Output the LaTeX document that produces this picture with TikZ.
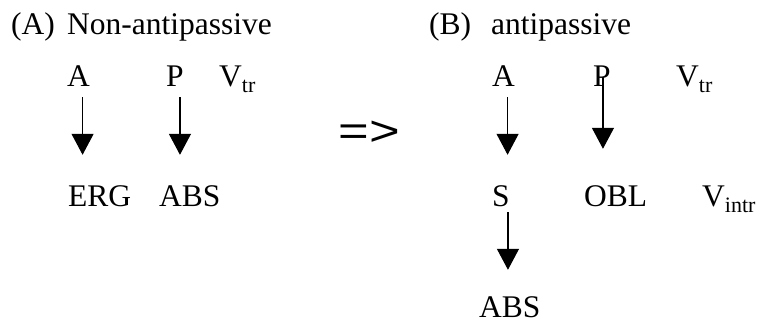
\documentclass[tikz,border=0pt]{standalone}
\usepackage{fontspec}
\setmainfont{Liberation Serif}
\newfontfamily\arrowfont{Liberation Sans}
\usetikzlibrary{arrows.meta,calc}

% subscript used for the verb labels
\newcommand{\vsub}[1]{\raisebox{-5.5pt}{\fontsize{22}{22}\selectfont #1}}

\tikzset{
  lbl/.style={anchor=base west, inner sep=0pt, text height=20pt, text depth=0pt,
              font=\fontsize{31.5}{35}\selectfont},
  arr/.style={line width=1.3pt, -{Triangle[width=22pt,length=21pt]}},
}

\begin{document}
\begin{tikzpicture}[x=1pt, y=-1pt]
  \useasboundingbox (0,0) rectangle (763,323);

  % (A) non-antipassive construction
  \node[lbl] (hdA)  at (11,35)  {(A)};
  \node[lbl] (ttA)  at (67,35)  {Non-antipassive};
  \node[lbl] (aA)   at (67,87)  {A};
  \node[lbl] (aP)   at (166,87) {P};
  \node[lbl] (aV)   at (219,87) {V\vsub{tr}};
  \node[lbl] (aERG) at (68,207) {ERG};
  \node[lbl] (aABS) at (159,207) {ABS};

  \draw[arr] ($(aA.south)+(4pt,-10pt)$) -- ($(aA.south |- aERG.north)+(4pt,32pt)$);
  \draw[arr] ($(aP.south)+(5pt,-10pt)$) -- ($(aP.south |- aABS.north)+(5pt,32pt)$);

  % derivation sign
  \node[inner sep=0pt, font=\arrowfont\fontsize{42}{42}\selectfont, xscale=1.25]
    (imp) at (369,133) {=>};

  % (B) antipassive construction
  \node[lbl] (hdB)  at (429,35) {(B)};
  \node[lbl] (ttB)  at (491,35) {antipassive};
  \node[lbl] (bA)   at (492,87) {A};
  \node[lbl] (bP)   at (593,87) {P};
  \node[lbl] (bV)   at (676,87) {V\vsub{tr}};
  \node[lbl] (bS)   at (492,207) {S};
  \node[lbl] (bOBL) at (584,207) {OBL};
  \node[lbl] (bVi)  at (702,207) {V\vsub{intr}};
  \node[lbl] (bABS) at (479,317) {ABS};

  \draw[arr] ($(bA.south)+(4pt,-10pt)$) -- ($(bA.south |- bS.north)+(4pt,32pt)$);
  \draw[arr] ($(bP.south)+(1pt,10pt)$) -- ($(bP.south |- bOBL.north)+(1pt,38pt)$);
  \draw[arr] ($(bS.south)+(7pt,-5pt)$) -- ($(bS.south |- bABS.north)+(7pt,27pt)$);
\end{tikzpicture}
\end{document}
